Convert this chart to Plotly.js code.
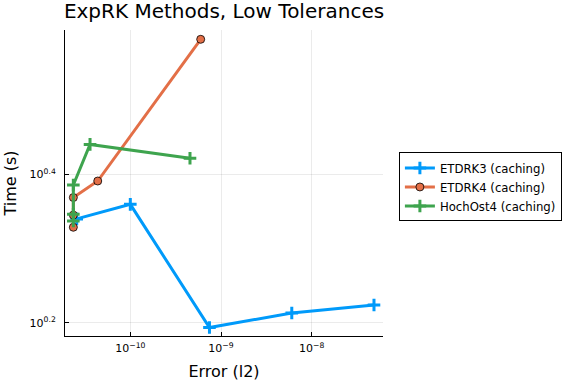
<!DOCTYPE html>
<html><head><meta charset="utf-8">
<script src="https://cdn.plot.ly/plotly-3.0.1.min.js"></script>
<style>html,body{margin:0;padding:0;background:#fff}#chart{width:576px;height:384px}</style>
</head><body><div id="chart"></div>
<script>
const etdrk3Err = [2.565e-11, 1.0e-10, 7.46e-10, 6.03e-9, 4.86e-8];
const etdrk3Time = [2.187, 2.288, 1.561, 1.633, 1.674];
const etdrk4Err = [2.355e-11, 2.355e-11, 2.355e-11, 4.375e-11, 5.97e-10];
const etdrk4Time = [2.131, 2.213, 2.337, 2.460, 3.819];
const hoch4Err = [2.355e-11, 2.355e-11, 2.355e-11, 3.597e-11, 4.55e-10];
const hoch4Time = [2.173, 2.218, 2.430, 2.756, 2.640];
const seriesNames = ["ETDRK3 (caching)", "ETDRK4 (caching)", "HochOst4 (caching)"];
const xTickVals = [1e-10, 1e-9, 1e-8];
const xTickText = ["10<sup>−10</sup>", "10<sup>−9</sup>", "10<sup>−8</sup>"];
const yTickVals = [Math.pow(10, 0.2), Math.pow(10, 0.4)];
const yTickText = ["10<sup>0.2</sup>", "10<sup>0.4</sup>"];

const FAM = "DejaVu Sans";
const traces = [
  {x: etdrk3Err, y: etdrk3Time, name: seriesNames[0], mode: "lines+markers",
   line: {color: "#009AFA", width: 3},
   marker: {symbol: "cross-thin", size: 9, color: "#009AFA", line: {color: "#009AFA", width: 3}}},
  {x: etdrk4Err, y: etdrk4Time, name: seriesNames[1], mode: "lines+markers",
   line: {color: "#E36F47", width: 3},
   marker: {symbol: "circle", size: 8, color: "#E36F47", line: {color: "#000", width: 0.8}}},
  {x: hoch4Err, y: hoch4Time, name: seriesNames[2], mode: "lines+markers",
   line: {color: "#3EA44E", width: 3},
   marker: {symbol: "cross-thin", size: 9, color: "#3EA44E", line: {color: "#3EA44E", width: 3}}}
];

const layout = {
  width: 576, height: 384,
  margin: {l: 65, r: 193, t: 30, b: 48, autoexpand: false},
  paper_bgcolor: "#fff", plot_bgcolor: "#fff",
  font: {family: FAM, color: "#000", size: 12},
  title: {text: "ExpRK Methods, Low Tolerances", font: {family: FAM, size: 20, color: "#000"}, x: 0.5, xref: "paper", xanchor: "center", y: 0.99, yanchor: "top"},
  showlegend: true,
  legend: {x: 1.05, y: 0.487, xanchor: "left", yanchor: "middle", bordercolor: "#000", borderwidth: 1,
           font: {family: FAM, size: 11.7, color: "#000"}, tracegroupgap: 0, itemwidth: 30},
  xaxis: {type: "log", range: [-10.72, -7.214], tickvals: xTickVals, ticktext: xTickText,
          showgrid: true, gridcolor: "rgba(0,0,0,0.08)", zeroline: false,
          showline: true, linecolor: "#000", linewidth: 1, ticks: "inside", ticklen: 4, tickcolor: "#000",
          ticklabelstandoff: 2,
          tickfont: {family: FAM, size: 11, color: "#000"}, title: {text: "Error (l2)", font: {family: FAM, size: 16, color: "#000"}, standoff: 11}},
  yaxis: {type: "log", range: [0.182, 0.5945], tickvals: yTickVals, ticktext: yTickText,
          showgrid: true, gridcolor: "rgba(0,0,0,0.08)", zeroline: false,
          showline: true, linecolor: "#000", linewidth: 1, ticks: "inside", ticklen: 4, tickcolor: "#000",
          ticklabelstandoff: 6,
          tickfont: {family: FAM, size: 11, color: "#000"}, title: {text: "Time (s)", font: {family: FAM, size: 16, color: "#000"}, standoff: 8}}
};
Plotly.newPlot("chart", traces, layout, {displayModeBar: false, staticPlot: true});
</script></body></html>
